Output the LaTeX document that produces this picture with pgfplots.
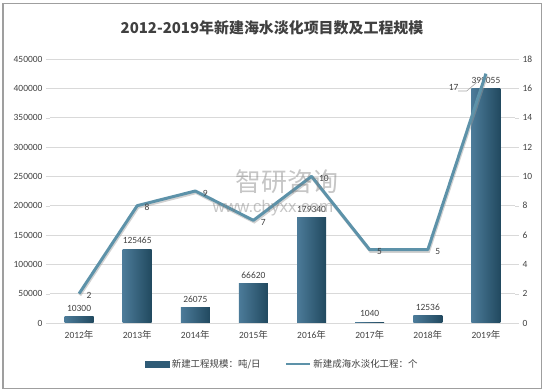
\documentclass[border=0pt]{standalone}
\usepackage{fontspec}
\setmainfont{Carlito}
\newfontfamily\cjk{Noto Sans CJK SC}
\newfontfamily\wm{Liberation Sans}
\usepackage{pgfplots}
\pgfplotsset{compat=1.18}
\usepackage{pgfplotstable}
\definecolor{barL}{HTML}{4C7B99}
\definecolor{barR}{HTML}{21495F}
\definecolor{barc}{HTML}{2F5B76}
\definecolor{linec}{HTML}{5D92A9}
\definecolor{gridc}{HTML}{D9D9D9}
\definecolor{txt}{HTML}{404040}

\pgfplotstableread{
x y
0 10300
1 125465
2 26075
3 66620
4 179340
5 1040
6 12536
7 399055
}\scaletable

\pgfplotstableread{
x y
0 2
1 8
2 9
3 7
4 10
5 5
6 5
7 17
}\counttable

\pgfplotstableread{
x y
0 2
1 8
2 9
3 7
4 10
5 5
6 5
}\countlabels

\pgfplotstableread{
x y
7 17
}\countlast

\begin{document}
\begin{tikzpicture}
\useasboundingbox (0,0) rectangle (545bp,392bp);
\draw[gray!75, line width=1.2bp] (3bp,3.5bp) rectangle (541.5bp,388.5bp);
\node[font=\cjk\fontsize{15}{18}\selectfont\bfseries, text=txt] at (272bp,364bp) {2012-2019年新建海水淡化项目数及工程规模};

\begin{axis}[
  at={(50bp,69bp)}, anchor=south west, scale only axis,
  width=465bp, height=264bp,
  xmin=-0.5, xmax=7.5, ymin=0, ymax=450000,
  ytick={0,50000,...,450000},
  scaled y ticks=false,
  /pgf/number format/assume math mode=true,
  yticklabel style={/pgf/number format/fixed, /pgf/number format/1000 sep={}, font=\fontsize{9.5}{11}\selectfont, text=txt},
  xtick={0,...,7},
  xticklabels={{2012{\cjk 年}},{2013{\cjk 年}},{2014{\cjk 年}},{2015{\cjk 年}},{2016{\cjk 年}},{2017{\cjk 年}},{2018{\cjk 年}},{2019{\cjk 年}}},
  xticklabel style={font=\fontsize{9.5}{11}\selectfont, text=txt},
  x tick style={draw=none},
  y tick style={gridc},
  tick align=outside, major tick length=4bp,
  axis line style={draw=none},
  ymajorgrids, grid style={gridc, line width=0.8bp},
  axis y line*=left,
  axis x line*=bottom,
  clip=false,
]
\pgfplotsinvokeforeach{0,...,7}{
\addplot[ybar, bar width=29bp, bar shift=0pt, draw=none, left color=barL, right color=barR,
  restrict expr to domain={\coordindex}{#1:#1},
  nodes near coords={\pgfmathprintnumber[fixed,1000 sep={}]{\pgfplotspointmeta}},
  every node near coord/.append style={font=\fontsize{9.5}{11}\selectfont, text=txt, yshift=2bp}]
  table[x=x,y=y] {\scaletable};
}
\end{axis}

\begin{axis}[
  at={(50bp,69bp)}, anchor=south west, scale only axis,
  width=465bp, height=264bp,
  xmin=-0.5, xmax=7.5, ymin=0, ymax=18,
  ytick={0,2,...,18},
  axis y line*=right,
  axis x line=none,
  /pgf/number format/assume math mode=true,
  yticklabel style={font=\fontsize{9.5}{11}\selectfont, text=txt},
  y tick style={gridc},
  tick align=outside, major tick length=4bp,
  axis line style={draw=none},
  clip=false,
  legend style={at={(0.5,-0.155)}, anchor=center, draw=none, fill=none,
    legend columns=2, font=\cjk\fontsize{9.5}{11}\selectfont, text=txt,
    /tikz/every even column/.append style={column sep=22bp}},
]
\addlegendimage{legend image code/.code={\fill[barc] (0bp,-3bp) rectangle (24bp,3bp);}}
\addlegendentry{新建工程规模：吨/日}
\addlegendimage{legend image code/.code={\draw[linec, line width=2.8bp] (0bp,0bp) -- (24bp,0bp);}}
\addlegendentry{新建成海水淡化工程：个}
\addplot[black!40, opacity=0.45, line width=3bp, mark=none, forget plot,
  transform canvas={xshift=0.8bp,yshift=-1.6bp}]
  table[x=x,y=y] {\counttable};
\addplot[linec, line width=3bp, mark=none, line join=round, forget plot]
  table[x=x,y=y] {\counttable};
\addplot[draw=none, mark=none, forget plot, nodes near coords,
  every node near coord/.append style={font=\fontsize{9.5}{11}\selectfont, text=txt, anchor=west, xshift=4bp, yshift=-2bp}]
  table[x=x,y=y] {\countlabels};
\addplot[draw=none, mark=none, forget plot, nodes near coords,
  every node near coord/.append style={font=\fontsize{9.5}{11}\selectfont, text=txt, anchor=east, xshift=-24bp, yshift=-14bp}]
  table[x=x,y=y] {\countlast};
\draw[gray!70, line width=0.6bp] (axis cs:6.52,15.82) -- (axis cs:6.67,15.82) -- (axis cs:6.84,16.4);
\end{axis}

\node[font=\cjk\fontsize{26}{28}\selectfont, text=gray, opacity=0.45] at (287bp,210bp) {智研咨询};
\node[font=\wm\fontsize{17}{19}\selectfont, text=gray, opacity=0.45] at (273bp,184bp) {www.chyxx.com};
\end{tikzpicture}
\end{document}
